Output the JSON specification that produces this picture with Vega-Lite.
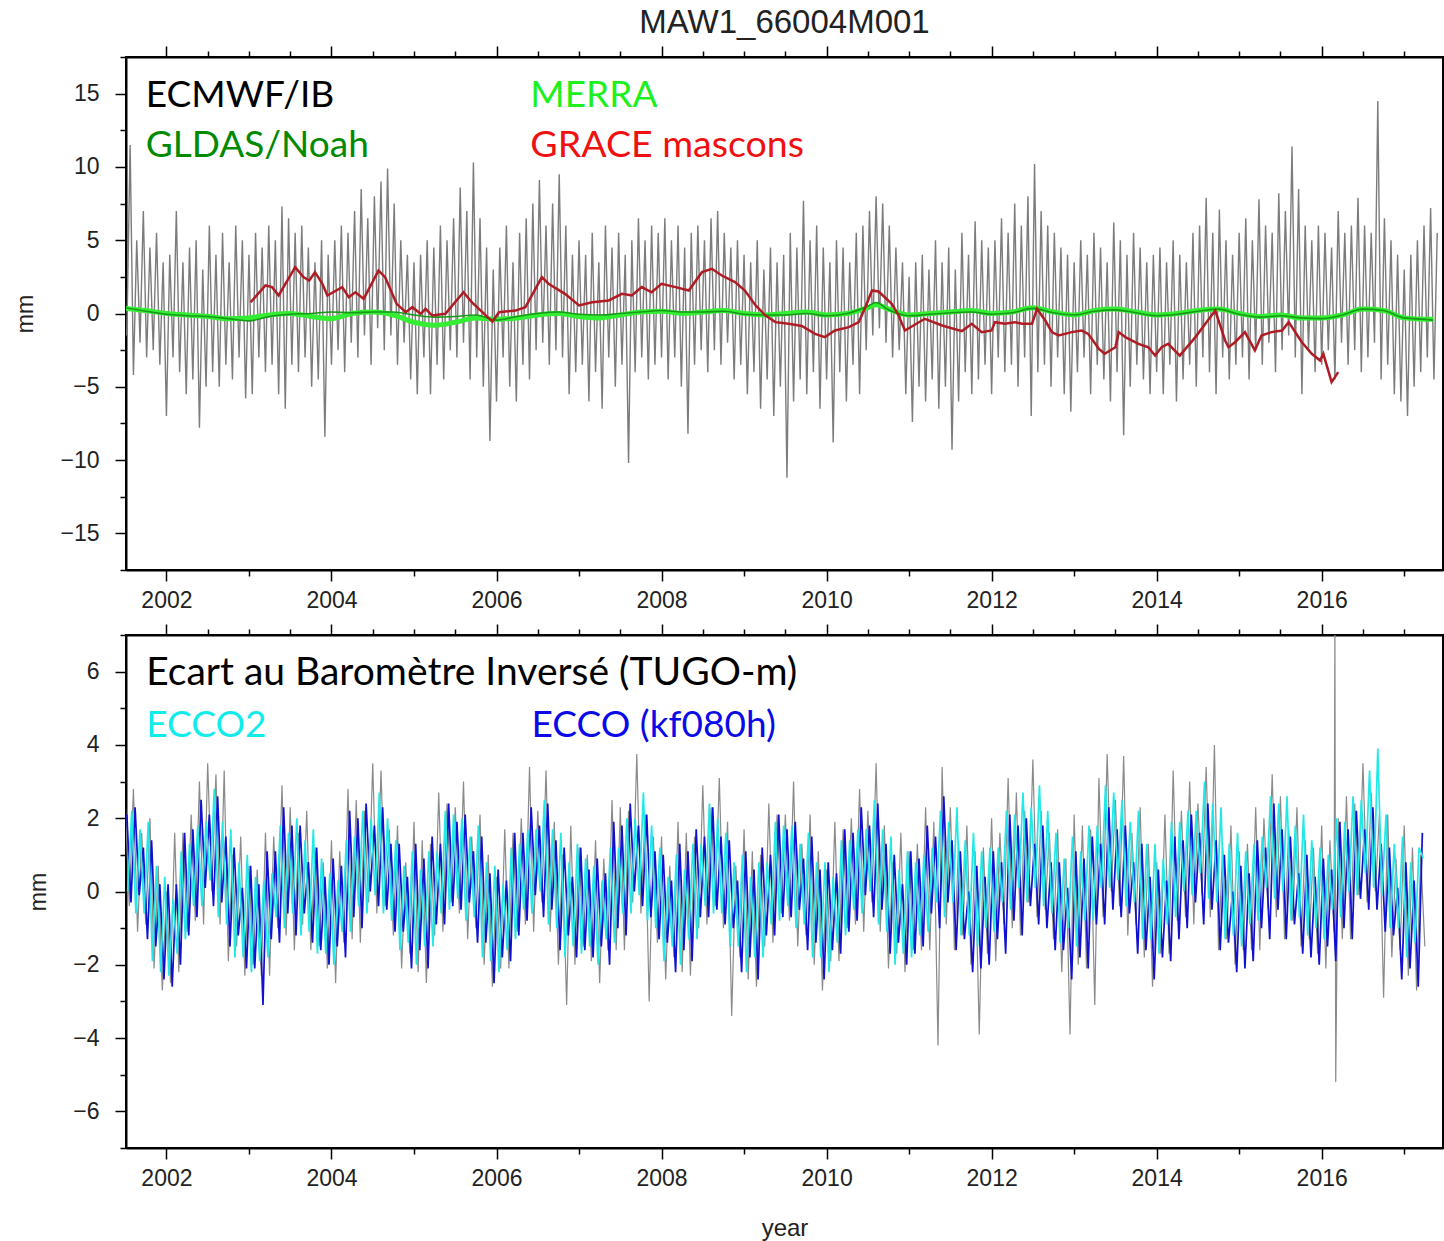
{
"$schema":"https://vega.github.io/schema/vega-lite/v6.json",
"background":"white",
"padding":{"left":13,"top":6,"right":3,"bottom":4},
"bounds":"flush",
"spacing":65,
"config":{
 "view":{"stroke":"black","strokeWidth":2},
 "axis":{"domainColor":"black","domainWidth":2,"tickColor":"black","tickWidth":1.5,"labelFont":"Liberation Sans","labelFontSize":23,"labelColor":"#222222","titleFont":"Liberation Sans","titleFontWeight":"normal","titleFontSize":23,"titleColor":"#222222","grid":false,"labelOverlap":false,"labelFlush":false}
},
"datasets":{
"labels":[{"label":"ECMWF/IB"},{"label":"GLDAS/Noah"},{"label":"MERRA"},{"label":"GRACE mascons"},{"label":"Ecart au Baromètre Inversé (TUGO-m)"},{"label":"ECCO2"},{"label":"ECCO (kf080h)"}],
"ib":[
{"t":2001.52,"v":-1.5},{"t":2001.56,"v":11.5},{"t":2001.60,"v":-4.2},{"t":2001.64,"v":5.0},{"t":2001.68,"v":-2.0},{"t":2001.72,"v":7.0},{"t":2001.76,"v":-3.0},{"t":2001.80,"v":4.5},{"t":2001.84,"v":-2.5},{"t":2001.88,"v":5.5},{"t":2001.92,"v":-3.5},{"t":2001.96,"v":3.5},
{"t":2002.00,"v":-7.0},{"t":2002.04,"v":4.0},{"t":2002.08,"v":-3.0},{"t":2002.12,"v":7.0},{"t":2002.16,"v":-4.0},{"t":2002.20,"v":3.5},{"t":2002.24,"v":-5.5},{"t":2002.28,"v":4.5},{"t":2002.32,"v":-4.5},{"t":2002.36,"v":5.0},{"t":2002.40,"v":-7.8},{"t":2002.44,"v":3.0},{"t":2002.48,"v":-5.0},{"t":2002.52,"v":6.0},{"t":2002.56,"v":-4.0},{"t":2002.60,"v":4.0},{"t":2002.64,"v":-5.0},{"t":2002.68,"v":5.5},{"t":2002.72,"v":-3.5},{"t":2002.76,"v":3.5},{"t":2002.80,"v":-4.5},{"t":2002.84,"v":6.0},{"t":2002.88,"v":-3.0},{"t":2002.92,"v":5.0},{"t":2002.96,"v":-5.8},
{"t":2003.00,"v":4.0},{"t":2003.04,"v":-5.5},{"t":2003.08,"v":5.5},{"t":2003.12,"v":-3.0},{"t":2003.16,"v":4.5},{"t":2003.20,"v":-4.0},{"t":2003.24,"v":6.0},{"t":2003.28,"v":-3.5},{"t":2003.32,"v":5.0},{"t":2003.36,"v":-5.5},{"t":2003.40,"v":7.3},{"t":2003.44,"v":-6.5},{"t":2003.48,"v":6.5},{"t":2003.52,"v":-3.5},{"t":2003.56,"v":5.5},{"t":2003.60,"v":-4.0},{"t":2003.64,"v":6.0},{"t":2003.68,"v":-3.0},{"t":2003.72,"v":4.5},{"t":2003.76,"v":-5.0},{"t":2003.80,"v":3.5},{"t":2003.84,"v":-4.5},{"t":2003.88,"v":5.0},{"t":2003.92,"v":-8.4},{"t":2003.96,"v":4.0},
{"t":2004.00,"v":-3.5},{"t":2004.04,"v":5.0},{"t":2004.08,"v":-2.5},{"t":2004.12,"v":6.0},{"t":2004.16,"v":-4.0},{"t":2004.20,"v":5.5},{"t":2004.24,"v":-2.0},{"t":2004.28,"v":7.0},{"t":2004.32,"v":-3.0},{"t":2004.36,"v":8.5},{"t":2004.40,"v":-1.5},{"t":2004.44,"v":6.5},{"t":2004.48,"v":-3.5},{"t":2004.52,"v":8.0},{"t":2004.56,"v":-1.0},{"t":2004.60,"v":9.0},{"t":2004.64,"v":-2.5},{"t":2004.68,"v":9.9},{"t":2004.72,"v":-1.5},{"t":2004.76,"v":7.5},{"t":2004.80,"v":-3.5},{"t":2004.84,"v":5.0},{"t":2004.88,"v":-2.0},{"t":2004.92,"v":4.0},{"t":2004.96,"v":-4.5},
{"t":2005.00,"v":3.5},{"t":2005.04,"v":-5.5},{"t":2005.08,"v":4.0},{"t":2005.12,"v":-3.0},{"t":2005.16,"v":5.0},{"t":2005.20,"v":-5.5},{"t":2005.24,"v":4.5},{"t":2005.28,"v":-3.5},{"t":2005.32,"v":6.0},{"t":2005.36,"v":-4.5},{"t":2005.40,"v":5.0},{"t":2005.44,"v":-2.5},{"t":2005.48,"v":6.5},{"t":2005.52,"v":-3.0},{"t":2005.56,"v":8.6},{"t":2005.60,"v":-2.0},{"t":2005.64,"v":7.0},{"t":2005.68,"v":-4.5},{"t":2005.72,"v":10.3},{"t":2005.76,"v":-3.0},{"t":2005.80,"v":6.5},{"t":2005.84,"v":-5.0},{"t":2005.88,"v":4.5},{"t":2005.92,"v":-8.7},{"t":2005.96,"v":3.0},
{"t":2006.00,"v":-6.0},{"t":2006.04,"v":4.5},{"t":2006.08,"v":-3.0},{"t":2006.12,"v":6.0},{"t":2006.16,"v":-5.0},{"t":2006.20,"v":3.5},{"t":2006.24,"v":-6.0},{"t":2006.28,"v":5.5},{"t":2006.32,"v":-3.5},{"t":2006.36,"v":6.5},{"t":2006.40,"v":-4.5},{"t":2006.44,"v":7.5},{"t":2006.48,"v":-2.5},{"t":2006.52,"v":9.1},{"t":2006.56,"v":-2.0},{"t":2006.60,"v":6.0},{"t":2006.64,"v":-3.5},{"t":2006.68,"v":7.5},{"t":2006.72,"v":-2.5},{"t":2006.76,"v":9.5},{"t":2006.80,"v":-3.0},{"t":2006.84,"v":6.0},{"t":2006.88,"v":-5.5},{"t":2006.92,"v":4.0},{"t":2006.96,"v":-4.0},
{"t":2007.00,"v":5.0},{"t":2007.04,"v":-3.5},{"t":2007.08,"v":4.0},{"t":2007.12,"v":-6.0},{"t":2007.16,"v":5.5},{"t":2007.20,"v":-4.0},{"t":2007.24,"v":3.5},{"t":2007.28,"v":-6.5},{"t":2007.32,"v":6.0},{"t":2007.36,"v":-3.0},{"t":2007.40,"v":4.5},{"t":2007.44,"v":-5.0},{"t":2007.48,"v":5.5},{"t":2007.52,"v":-3.5},{"t":2007.56,"v":4.0},{"t":2007.60,"v":-10.2},{"t":2007.64,"v":5.0},{"t":2007.68,"v":-4.0},{"t":2007.72,"v":6.5},{"t":2007.76,"v":-3.0},{"t":2007.80,"v":5.0},{"t":2007.84,"v":-4.5},{"t":2007.88,"v":6.0},{"t":2007.92,"v":-3.5},{"t":2007.96,"v":5.5},
{"t":2008.00,"v":-3.0},{"t":2008.04,"v":6.5},{"t":2008.08,"v":-4.5},{"t":2008.12,"v":5.0},{"t":2008.16,"v":-3.0},{"t":2008.20,"v":6.0},{"t":2008.24,"v":-5.0},{"t":2008.28,"v":4.5},{"t":2008.32,"v":-8.2},{"t":2008.36,"v":5.5},{"t":2008.40,"v":-3.5},{"t":2008.44,"v":6.0},{"t":2008.48,"v":-2.5},{"t":2008.52,"v":5.0},{"t":2008.56,"v":-4.0},{"t":2008.60,"v":6.5},{"t":2008.64,"v":-2.5},{"t":2008.68,"v":7.0},{"t":2008.72,"v":-3.5},{"t":2008.76,"v":5.5},{"t":2008.80,"v":-2.0},{"t":2008.84,"v":4.5},{"t":2008.88,"v":-4.5},{"t":2008.92,"v":5.0},{"t":2008.96,"v":-3.5},
{"t":2009.00,"v":4.0},{"t":2009.04,"v":-5.5},{"t":2009.08,"v":3.5},{"t":2009.12,"v":-4.0},{"t":2009.16,"v":5.0},{"t":2009.20,"v":-6.5},{"t":2009.24,"v":3.0},{"t":2009.28,"v":-4.5},{"t":2009.32,"v":4.5},{"t":2009.36,"v":-7.0},{"t":2009.40,"v":3.5},{"t":2009.44,"v":-5.0},{"t":2009.48,"v":4.0},{"t":2009.52,"v":-11.2},{"t":2009.56,"v":5.5},{"t":2009.60,"v":-6.0},{"t":2009.64,"v":4.5},{"t":2009.68,"v":-4.5},{"t":2009.72,"v":7.7},{"t":2009.76,"v":-5.5},{"t":2009.80,"v":5.0},{"t":2009.84,"v":-4.0},{"t":2009.88,"v":6.0},{"t":2009.92,"v":-6.5},{"t":2009.96,"v":4.5},
{"t":2010.00,"v":-4.5},{"t":2010.04,"v":3.5},{"t":2010.08,"v":-8.8},{"t":2010.12,"v":5.0},{"t":2010.16,"v":-4.0},{"t":2010.20,"v":4.5},{"t":2010.24,"v":-6.0},{"t":2010.28,"v":3.5},{"t":2010.32,"v":-3.5},{"t":2010.36,"v":5.5},{"t":2010.40,"v":-5.5},{"t":2010.44,"v":6.0},{"t":2010.48,"v":-2.5},{"t":2010.52,"v":7.0},{"t":2010.56,"v":-1.5},{"t":2010.60,"v":8.0},{"t":2010.64,"v":-1.0},{"t":2010.68,"v":7.5},{"t":2010.72,"v":-2.0},{"t":2010.76,"v":6.0},{"t":2010.80,"v":-3.0},{"t":2010.84,"v":4.5},{"t":2010.88,"v":-2.5},{"t":2010.92,"v":3.5},{"t":2010.96,"v":-5.5},
{"t":2011.00,"v":2.5},{"t":2011.04,"v":-7.4},{"t":2011.08,"v":3.5},{"t":2011.12,"v":-5.0},{"t":2011.16,"v":4.0},{"t":2011.20,"v":-6.0},{"t":2011.24,"v":3.0},{"t":2011.28,"v":-4.5},{"t":2011.32,"v":5.0},{"t":2011.36,"v":-6.5},{"t":2011.40,"v":3.5},{"t":2011.44,"v":-5.0},{"t":2011.48,"v":4.5},{"t":2011.52,"v":-9.3},{"t":2011.56,"v":3.0},{"t":2011.60,"v":-6.0},{"t":2011.64,"v":5.5},{"t":2011.68,"v":-4.0},{"t":2011.72,"v":4.0},{"t":2011.76,"v":-5.5},{"t":2011.80,"v":6.3},{"t":2011.84,"v":-4.5},{"t":2011.88,"v":5.0},{"t":2011.92,"v":-3.5},{"t":2011.96,"v":4.5},
{"t":2012.00,"v":-5.5},{"t":2012.04,"v":5.0},{"t":2012.08,"v":-3.0},{"t":2012.12,"v":6.5},{"t":2012.16,"v":-4.0},{"t":2012.20,"v":5.5},{"t":2012.24,"v":-3.5},{"t":2012.28,"v":7.5},{"t":2012.32,"v":-5.0},{"t":2012.36,"v":6.0},{"t":2012.40,"v":-3.0},{"t":2012.44,"v":8.0},{"t":2012.48,"v":-7.0},{"t":2012.52,"v":10.2},{"t":2012.56,"v":-4.0},{"t":2012.60,"v":7.0},{"t":2012.64,"v":-3.5},{"t":2012.68,"v":6.0},{"t":2012.72,"v":-5.0},{"t":2012.76,"v":5.5},{"t":2012.80,"v":-3.0},{"t":2012.84,"v":4.5},{"t":2012.88,"v":-5.5},{"t":2012.92,"v":4.0},{"t":2012.96,"v":-6.7},
{"t":2013.00,"v":3.5},{"t":2013.04,"v":-4.0},{"t":2013.08,"v":5.0},{"t":2013.12,"v":-3.0},{"t":2013.16,"v":4.0},{"t":2013.20,"v":-5.5},{"t":2013.24,"v":5.5},{"t":2013.28,"v":-3.5},{"t":2013.32,"v":4.5},{"t":2013.36,"v":-4.5},{"t":2013.40,"v":3.5},{"t":2013.44,"v":-6.0},{"t":2013.48,"v":6.2},{"t":2013.52,"v":-4.0},{"t":2013.56,"v":5.0},{"t":2013.60,"v":-8.3},{"t":2013.64,"v":4.0},{"t":2013.68,"v":-5.0},{"t":2013.72,"v":5.5},{"t":2013.76,"v":-3.5},{"t":2013.80,"v":4.5},{"t":2013.84,"v":-4.5},{"t":2013.88,"v":3.5},{"t":2013.92,"v":-5.5},{"t":2013.96,"v":4.0},
{"t":2014.00,"v":-4.0},{"t":2014.04,"v":4.5},{"t":2014.08,"v":-5.5},{"t":2014.12,"v":3.5},{"t":2014.16,"v":-3.5},{"t":2014.20,"v":5.0},{"t":2014.24,"v":-6.0},{"t":2014.28,"v":4.0},{"t":2014.32,"v":-4.5},{"t":2014.36,"v":3.5},{"t":2014.40,"v":-3.5},{"t":2014.44,"v":5.5},{"t":2014.48,"v":-5.0},{"t":2014.52,"v":6.0},{"t":2014.56,"v":-3.0},{"t":2014.60,"v":7.9},{"t":2014.64,"v":-4.0},{"t":2014.68,"v":5.5},{"t":2014.72,"v":-5.5},{"t":2014.76,"v":7.1},{"t":2014.80,"v":-3.0},{"t":2014.84,"v":5.0},{"t":2014.88,"v":-4.5},{"t":2014.92,"v":4.0},{"t":2014.96,"v":-3.5},
{"t":2015.00,"v":5.5},{"t":2015.04,"v":-3.0},{"t":2015.08,"v":6.5},{"t":2015.12,"v":-4.5},{"t":2015.16,"v":5.0},{"t":2015.20,"v":-2.5},{"t":2015.24,"v":7.8},{"t":2015.28,"v":-3.5},{"t":2015.32,"v":6.0},{"t":2015.36,"v":-2.0},{"t":2015.40,"v":5.5},{"t":2015.44,"v":-4.0},{"t":2015.48,"v":8.2},{"t":2015.52,"v":-2.5},{"t":2015.56,"v":7.0},{"t":2015.60,"v":-1.5},{"t":2015.64,"v":11.4},{"t":2015.68,"v":-3.0},{"t":2015.72,"v":8.5},{"t":2015.76,"v":-5.5},{"t":2015.80,"v":6.0},{"t":2015.84,"v":-2.5},{"t":2015.88,"v":5.0},{"t":2015.92,"v":-4.0},{"t":2015.96,"v":6.0},
{"t":2016.00,"v":-3.5},{"t":2016.04,"v":5.5},{"t":2016.08,"v":-2.5},{"t":2016.12,"v":4.5},{"t":2016.16,"v":-4.5},{"t":2016.20,"v":7.0},{"t":2016.24,"v":-2.0},{"t":2016.28,"v":5.5},{"t":2016.32,"v":-3.5},{"t":2016.36,"v":6.0},{"t":2016.40,"v":-2.5},{"t":2016.44,"v":7.9},{"t":2016.48,"v":-4.0},{"t":2016.52,"v":6.0},{"t":2016.56,"v":-3.0},{"t":2016.60,"v":5.5},{"t":2016.64,"v":-2.0},{"t":2016.68,"v":14.5},{"t":2016.72,"v":-4.5},{"t":2016.76,"v":6.5},{"t":2016.80,"v":-3.5},{"t":2016.84,"v":5.0},{"t":2016.88,"v":-5.5},{"t":2016.92,"v":4.0},{"t":2016.96,"v":-6.0},
{"t":2017.00,"v":3.0},{"t":2017.04,"v":-7.0},{"t":2017.08,"v":4.0},{"t":2017.12,"v":-5.0},{"t":2017.16,"v":5.0},{"t":2017.20,"v":-4.0},{"t":2017.24,"v":6.0},{"t":2017.28,"v":-3.0},{"t":2017.32,"v":7.2},{"t":2017.36,"v":-4.5},{"t":2017.40,"v":5.5}
],
"merra":[
{"t":2001.5,"v":0.35},{"t":2001.75,"v":0.2},{"t":2002.0,"v":0.0},{"t":2002.25,"v":-0.1},{"t":2002.5,"v":-0.2},{"t":2002.75,"v":-0.35},{"t":2003.0,"v":-0.3},{"t":2003.25,"v":-0.1},{"t":2003.5,"v":0.0},{"t":2003.75,"v":-0.2},{"t":2004.0,"v":-0.35},{"t":2004.25,"v":0.0},{"t":2004.5,"v":0.1},{"t":2004.75,"v":-0.1},{"t":2005.0,"v":-0.6},{"t":2005.25,"v":-0.8},{"t":2005.5,"v":-0.6},{"t":2005.75,"v":-0.3},{"t":2006.0,"v":-0.4},{"t":2006.25,"v":-0.3},{"t":2006.5,"v":-0.1},{"t":2006.75,"v":0.0},{"t":2007.0,"v":-0.2},{"t":2007.25,"v":-0.3},{"t":2007.5,"v":-0.1},{"t":2007.75,"v":0.1},{"t":2008.0,"v":0.15},{"t":2008.25,"v":0.0},{"t":2008.5,"v":0.1},{"t":2008.75,"v":0.2},{"t":2009.0,"v":0.0},{"t":2009.25,"v":-0.1},{"t":2009.5,"v":0.0},{"t":2009.75,"v":0.1},{"t":2010.0,"v":-0.1},{"t":2010.25,"v":0.0},{"t":2010.5,"v":0.4},{"t":2010.6,"v":0.6},{"t":2010.75,"v":0.3},{"t":2011.0,"v":-0.1},{"t":2011.25,"v":0.0},{"t":2011.5,"v":0.1},{"t":2011.75,"v":0.2},{"t":2012.0,"v":0.0},{"t":2012.25,"v":0.1},{"t":2012.5,"v":0.4},{"t":2012.75,"v":0.1},{"t":2013.0,"v":-0.1},{"t":2013.25,"v":0.2},{"t":2013.5,"v":0.3},{"t":2013.75,"v":0.1},{"t":2014.0,"v":-0.1},{"t":2014.25,"v":0.0},{"t":2014.5,"v":0.2},{"t":2014.75,"v":0.3},{"t":2015.0,"v":0.0},{"t":2015.25,"v":-0.2},{"t":2015.5,"v":-0.1},{"t":2015.75,"v":-0.3},{"t":2016.0,"v":-0.3},{"t":2016.25,"v":-0.1},{"t":2016.5,"v":0.3},{"t":2016.75,"v":0.2},{"t":2017.0,"v":-0.3},{"t":2017.25,"v":-0.4},{"t":2017.35,"v":-0.4}
],
"gldas":[
{"t":2001.5,"v":0.4},{"t":2001.75,"v":0.15},{"t":2002.0,"v":-0.05},{"t":2002.25,"v":-0.15},{"t":2002.5,"v":-0.2},{"t":2002.75,"v":-0.35},{"t":2003.0,"v":-0.5},{"t":2003.25,"v":-0.2},{"t":2003.5,"v":-0.05},{"t":2003.75,"v":0.0},{"t":2004.0,"v":0.1},{"t":2004.25,"v":0.05},{"t":2004.5,"v":0.1},{"t":2004.75,"v":0.1},{"t":2005.0,"v":-0.1},{"t":2005.25,"v":-0.25},{"t":2005.5,"v":-0.2},{"t":2005.75,"v":-0.1},{"t":2006.0,"v":-0.45},{"t":2006.25,"v":-0.2},{"t":2006.5,"v":0.0},{"t":2006.75,"v":0.1},{"t":2007.0,"v":-0.05},{"t":2007.25,"v":-0.1},{"t":2007.5,"v":0.0},{"t":2007.75,"v":0.1},{"t":2008.0,"v":0.2},{"t":2008.25,"v":0.1},{"t":2008.5,"v":0.1},{"t":2008.75,"v":0.15},{"t":2009.0,"v":-0.05},{"t":2009.25,"v":-0.1},{"t":2009.5,"v":-0.1},{"t":2009.75,"v":0.0},{"t":2010.0,"v":-0.15},{"t":2010.25,"v":0.0},{"t":2010.5,"v":0.5},{"t":2010.6,"v":0.75},{"t":2010.75,"v":0.25},{"t":2011.0,"v":-0.15},{"t":2011.25,"v":-0.05},{"t":2011.5,"v":0.05},{"t":2011.75,"v":0.1},{"t":2012.0,"v":-0.05},{"t":2012.25,"v":0.05},{"t":2012.5,"v":0.35},{"t":2012.75,"v":0.05},{"t":2013.0,"v":-0.1},{"t":2013.25,"v":0.15},{"t":2013.5,"v":0.25},{"t":2013.75,"v":0.05},{"t":2014.0,"v":-0.15},{"t":2014.25,"v":-0.05},{"t":2014.5,"v":0.15},{"t":2014.75,"v":0.3},{"t":2015.0,"v":-0.05},{"t":2015.25,"v":-0.25},{"t":2015.5,"v":-0.15},{"t":2015.75,"v":-0.3},{"t":2016.0,"v":-0.35},{"t":2016.25,"v":-0.1},{"t":2016.5,"v":0.3},{"t":2016.75,"v":0.2},{"t":2017.0,"v":-0.3},{"t":2017.25,"v":-0.4},{"t":2017.35,"v":-0.45}
],
"grace":[
{"t":2003.02,"v":0.77},{"t":2003.20,"v":1.91},{"t":2003.28,"v":1.8},{"t":2003.36,"v":1.23},{"t":2003.56,"v":3.16},{"t":2003.66,"v":2.48},{"t":2003.73,"v":2.25},{"t":2003.80,"v":2.82},{"t":2003.89,"v":2.03},{"t":2003.95,"v":1.23},{"t":2004.13,"v":1.8},{"t":2004.21,"v":1.11},{"t":2004.29,"v":1.45},{"t":2004.39,"v":1.0},{"t":2004.57,"v":2.93},{"t":2004.65,"v":2.48},{"t":2004.79,"v":0.66},{"t":2004.90,"v":0.09},{"t":2004.98,"v":0.43},{"t":2005.08,"v":-0.02},{"t":2005.14,"v":0.32},{"t":2005.22,"v":-0.14},{"t":2005.38,"v":-0.02},{"t":2005.60,"v":1.45},{"t":2005.70,"v":0.77},{"t":2005.95,"v":-0.55},{"t":2006.03,"v":0.09},{"t":2006.23,"v":0.2},{"t":2006.35,"v":0.43},{"t":2006.55,"v":2.48},{"t":2006.63,"v":2.03},{"t":2006.83,"v":1.34},{"t":2007.00,"v":0.55},{"t":2007.16,"v":0.77},{"t":2007.36,"v":0.89},{"t":2007.52,"v":1.34},{"t":2007.64,"v":1.23},{"t":2007.76,"v":1.8},{"t":2007.88,"v":1.45},{"t":2008.00,"v":2.03},{"t":2008.17,"v":1.8},{"t":2008.33,"v":1.57},{"t":2008.49,"v":2.82},{"t":2008.61,"v":3.05},{"t":2008.73,"v":2.59},{"t":2008.89,"v":2.14},{"t":2009.01,"v":1.57},{"t":2009.14,"v":0.55},{"t":2009.26,"v":-0.14},{"t":2009.38,"v":-0.59},{"t":2009.54,"v":-0.7},{"t":2009.70,"v":-0.85},{"t":2009.86,"v":-1.39},{"t":2009.98,"v":-1.61},{"t":2010.10,"v":-1.16},{"t":2010.27,"v":-0.93},{"t":2010.39,"v":-0.59},{"t":2010.47,"v":0.43},{"t":2010.55,"v":1.57},{"t":2010.63,"v":1.5},{"t":2010.79,"v":0.66},{"t":2010.87,"v":-0.1},{"t":2010.95,"v":-1.16},{"t":2011.19,"v":-0.36},{"t":2011.40,"v":-0.82},{"t":2011.64,"v":-1.2},{"t":2011.76,"v":-0.7},{"t":2011.88,"v":-1.27},{"t":2012.00,"v":-1.16},{"t":2012.04,"v":-0.59},{"t":2012.16,"v":-0.7},{"t":2012.28,"v":-0.59},{"t":2012.37,"v":-0.7},{"t":2012.49,"v":-0.7},{"t":2012.55,"v":0.32},{"t":2012.65,"v":-0.48},{"t":2012.73,"v":-1.27},{"t":2012.81,"v":-1.5},{"t":2012.89,"v":-1.39},{"t":2012.97,"v":-1.27},{"t":2013.09,"v":-1.16},{"t":2013.17,"v":-1.39},{"t":2013.30,"v":-2.41},{"t":2013.37,"v":-2.75},{"t":2013.50,"v":-2.3},{"t":2013.54,"v":-1.27},{"t":2013.62,"v":-1.61},{"t":2013.78,"v":-2.07},{"t":2013.90,"v":-2.3},{"t":2013.98,"v":-2.87},{"t":2014.06,"v":-2.3},{"t":2014.14,"v":-2.07},{"t":2014.28,"v":-2.87},{"t":2014.47,"v":-1.61},{"t":2014.59,"v":-0.7},{"t":2014.71,"v":0.2},{"t":2014.83,"v":-1.84},{"t":2014.87,"v":-2.3},{"t":2014.95,"v":-1.96},{"t":2015.07,"v":-1.27},{"t":2015.19,"v":-2.52},{"t":2015.27,"v":-1.5},{"t":2015.39,"v":-1.27},{"t":2015.52,"v":-1.16},{"t":2015.60,"v":-0.59},{"t":2015.76,"v":-1.96},{"t":2015.88,"v":-2.75},{"t":2015.98,"v":-3.21},{"t":2016.02,"v":-2.75},{"t":2016.12,"v":-4.68},{"t":2016.20,"v":-4.0}
],
"tugo":[
{"t":2001.50,"v":2.5},{"t":2001.55,"v":-0.4},{"t":2001.60,"v":2.8},{"t":2001.65,"v":-1.1},{"t":2001.70,"v":1.6},{"t":2001.75,"v":-0.9},{"t":2001.80,"v":2.0},{"t":2001.85,"v":-2.1},{"t":2001.90,"v":0.7},{"t":2001.95,"v":-2.7},
{"t":2002.00,"v":0.0},{"t":2002.05,"v":-2.5},{"t":2002.10,"v":1.6},{"t":2002.15,"v":-2.2},{"t":2002.20,"v":1.6},{"t":2002.25,"v":-1.1},{"t":2002.30,"v":2.1},{"t":2002.35,"v":-0.8},{"t":2002.40,"v":3.0},{"t":2002.45,"v":-0.9},{"t":2002.50,"v":3.5},{"t":2002.55,"v":0.0},{"t":2002.60,"v":3.2},{"t":2002.65,"v":-0.9},{"t":2002.70,"v":3.3},{"t":2002.75,"v":-1.9},{"t":2002.80,"v":1.0},{"t":2002.85,"v":-1.5},{"t":2002.90,"v":1.5},{"t":2002.95,"v":-2.3},
{"t":2003.00,"v":0.7},{"t":2003.05,"v":-2.0},{"t":2003.10,"v":0.6},{"t":2003.15,"v":-2.3},{"t":2003.20,"v":1.6},{"t":2003.25,"v":-2.3},{"t":2003.30,"v":1.5},{"t":2003.35,"v":-1.0},{"t":2003.40,"v":2.9},{"t":2003.45,"v":-1.2},{"t":2003.50,"v":2.3},{"t":2003.55,"v":-1.6},{"t":2003.60,"v":1.6},{"t":2003.65,"v":-0.9},{"t":2003.70,"v":2.2},{"t":2003.75,"v":-1.6},{"t":2003.80,"v":1.2},{"t":2003.85,"v":-1.5},{"t":2003.90,"v":0.8},{"t":2003.95,"v":-2.1},
{"t":2004.00,"v":1.4},{"t":2004.05,"v":-2.5},{"t":2004.10,"v":1.1},{"t":2004.15,"v":-1.4},{"t":2004.20,"v":2.8},{"t":2004.25,"v":-1.3},{"t":2004.30,"v":2.5},{"t":2004.35,"v":-1.4},{"t":2004.40,"v":2.2},{"t":2004.45,"v":-0.3},{"t":2004.50,"v":3.5},{"t":2004.55,"v":-0.6},{"t":2004.60,"v":3.3},{"t":2004.65,"v":-0.4},{"t":2004.70,"v":1.7},{"t":2004.75,"v":-1.2},{"t":2004.80,"v":1.8},{"t":2004.85,"v":-2.1},{"t":2004.90,"v":0.8},{"t":2004.95,"v":-1.7},
{"t":2005.00,"v":1.9},{"t":2005.05,"v":-2.2},{"t":2005.10,"v":1.4},{"t":2005.15,"v":-2.5},{"t":2005.20,"v":1.3},{"t":2005.25,"v":-1.2},{"t":2005.30,"v":2.7},{"t":2005.35,"v":-1.1},{"t":2005.40,"v":2.4},{"t":2005.45,"v":-0.3},{"t":2005.50,"v":2.3},{"t":2005.55,"v":-0.6},{"t":2005.60,"v":3.0},{"t":2005.65,"v":-1.3},{"t":2005.70,"v":1.5},{"t":2005.75,"v":-1.0},{"t":2005.80,"v":2.1},{"t":2005.85,"v":-2.0},{"t":2005.90,"v":1.0},{"t":2005.95,"v":-2.6},
{"t":2006.00,"v":0.4},{"t":2006.05,"v":-2.1},{"t":2006.10,"v":1.7},{"t":2006.15,"v":-2.1},{"t":2006.20,"v":1.6},{"t":2006.25,"v":-1.1},{"t":2006.30,"v":2.0},{"t":2006.35,"v":-0.9},{"t":2006.40,"v":3.4},{"t":2006.45,"v":-1.1},{"t":2006.50,"v":2.2},{"t":2006.55,"v":-0.3},{"t":2006.60,"v":3.3},{"t":2006.65,"v":-1.1},{"t":2006.70,"v":1.9},{"t":2006.75,"v":-2.0},{"t":2006.80,"v":1.0},{"t":2006.85,"v":-3.1},{"t":2006.90,"v":1.8},{"t":2006.95,"v":-2.0},
{"t":2007.00,"v":1.2},{"t":2007.05,"v":-1.5},{"t":2007.10,"v":1.0},{"t":2007.15,"v":-1.9},{"t":2007.20,"v":1.4},{"t":2007.25,"v":-2.5},{"t":2007.30,"v":0.9},{"t":2007.35,"v":-1.6},{"t":2007.40,"v":2.5},{"t":2007.45,"v":-1.6},{"t":2007.50,"v":2.3},{"t":2007.55,"v":-1.6},{"t":2007.60,"v":2.2},{"t":2007.65,"v":-0.3},{"t":2007.70,"v":3.75},{"t":2007.75,"v":-0.6},{"t":2007.80,"v":2.1},{"t":2007.85,"v":-3.0},{"t":2007.90,"v":1.5},{"t":2007.95,"v":-1.4},
{"t":2008.00,"v":1.5},{"t":2008.05,"v":-2.4},{"t":2008.10,"v":0.7},{"t":2008.15,"v":-1.8},{"t":2008.20,"v":1.9},{"t":2008.25,"v":-2.2},{"t":2008.30,"v":1.6},{"t":2008.35,"v":-2.3},{"t":2008.40,"v":1.5},{"t":2008.45,"v":-1.0},{"t":2008.50,"v":2.9},{"t":2008.55,"v":-0.9},{"t":2008.60,"v":2.3},{"t":2008.65,"v":-0.4},{"t":2008.70,"v":3.1},{"t":2008.75,"v":-1.0},{"t":2008.80,"v":1.9},{"t":2008.85,"v":-3.4},{"t":2008.90,"v":0.7},{"t":2008.95,"v":-1.8},
{"t":2009.00,"v":1.7},{"t":2009.05,"v":-2.4},{"t":2009.10,"v":1.1},{"t":2009.15,"v":-2.6},{"t":2009.20,"v":1.0},{"t":2009.25,"v":-1.5},{"t":2009.30,"v":2.4},{"t":2009.35,"v":-1.4},{"t":2009.40,"v":2.1},{"t":2009.45,"v":-0.6},{"t":2009.50,"v":2.1},{"t":2009.55,"v":-0.8},{"t":2009.60,"v":3.0},{"t":2009.65,"v":-1.5},{"t":2009.70,"v":1.3},{"t":2009.75,"v":-1.2},{"t":2009.80,"v":2.1},{"t":2009.85,"v":-2.0},{"t":2009.90,"v":1.1},{"t":2009.95,"v":-2.7},
{"t":2010.00,"v":0.6},{"t":2010.05,"v":-1.9},{"t":2010.10,"v":1.9},{"t":2010.15,"v":-1.9},{"t":2010.20,"v":1.7},{"t":2010.25,"v":-1.0},{"t":2010.30,"v":2.0},{"t":2010.35,"v":-0.9},{"t":2010.40,"v":2.8},{"t":2010.45,"v":-1.1},{"t":2010.50,"v":2.2},{"t":2010.55,"v":-0.3},{"t":2010.60,"v":3.5},{"t":2010.65,"v":-1.1},{"t":2010.70,"v":1.8},{"t":2010.75,"v":-2.1},{"t":2010.80,"v":0.8},{"t":2010.85,"v":-1.7},{"t":2010.90,"v":1.6},{"t":2010.95,"v":-2.2},
{"t":2011.00,"v":1.1},{"t":2011.05,"v":-1.6},{"t":2011.10,"v":1.3},{"t":2011.15,"v":-1.6},{"t":2011.20,"v":2.3},{"t":2011.25,"v":-1.6},{"t":2011.30,"v":1.9},{"t":2011.35,"v":-4.2},{"t":2011.40,"v":3.4},{"t":2011.45,"v":-0.9},{"t":2011.50,"v":2.3},{"t":2011.55,"v":-1.6},{"t":2011.60,"v":1.3},{"t":2011.65,"v":-1.2},{"t":2011.70,"v":1.8},{"t":2011.75,"v":-2.0},{"t":2011.80,"v":1.1},{"t":2011.85,"v":-3.9},{"t":2011.90,"v":1.2},{"t":2011.95,"v":-1.7},
{"t":2012.00,"v":2.0},{"t":2012.05,"v":-1.9},{"t":2012.10,"v":1.6},{"t":2012.15,"v":-0.9},{"t":2012.20,"v":3.1},{"t":2012.25,"v":-1.0},{"t":2012.30,"v":2.7},{"t":2012.35,"v":-1.2},{"t":2012.40,"v":2.2},{"t":2012.45,"v":-0.3},{"t":2012.50,"v":3.6},{"t":2012.55,"v":-0.7},{"t":2012.60,"v":2.2},{"t":2012.65,"v":-0.5},{"t":2012.70,"v":1.6},{"t":2012.75,"v":-1.3},{"t":2012.80,"v":1.7},{"t":2012.85,"v":-2.2},{"t":2012.90,"v":0.9},{"t":2012.95,"v":-3.9},
{"t":2013.00,"v":2.1},{"t":2013.05,"v":-2.0},{"t":2013.10,"v":1.8},{"t":2013.15,"v":-2.1},{"t":2013.20,"v":1.7},{"t":2013.25,"v":-3.1},{"t":2013.30,"v":3.1},{"t":2013.35,"v":-0.7},{"t":2013.40,"v":3.75},{"t":2013.45,"v":0.0},{"t":2013.50,"v":2.5},{"t":2013.55,"v":-0.4},{"t":2013.60,"v":3.7},{"t":2013.65,"v":-1.2},{"t":2013.70,"v":1.6},{"t":2013.75,"v":-0.9},{"t":2013.80,"v":2.3},{"t":2013.85,"v":-1.8},{"t":2013.90,"v":1.3},{"t":2013.95,"v":-2.6},
{"t":2014.00,"v":0.8},{"t":2014.05,"v":-1.7},{"t":2014.10,"v":2.1},{"t":2014.15,"v":-1.7},{"t":2014.20,"v":3.3},{"t":2014.25,"v":-0.8},{"t":2014.30,"v":2.2},{"t":2014.35,"v":-0.7},{"t":2014.40,"v":3.0},{"t":2014.45,"v":-0.9},{"t":2014.50,"v":2.4},{"t":2014.55,"v":-0.1},{"t":2014.60,"v":3.4},{"t":2014.65,"v":-0.7},{"t":2014.70,"v":4.0},{"t":2014.75,"v":-1.6},{"t":2014.80,"v":1.2},{"t":2014.85,"v":-1.3},{"t":2014.90,"v":1.8},{"t":2014.95,"v":-2.0},
{"t":2015.00,"v":1.1},{"t":2015.05,"v":-1.6},{"t":2015.10,"v":1.3},{"t":2015.15,"v":-1.6},{"t":2015.20,"v":2.3},{"t":2015.25,"v":-1.6},{"t":2015.30,"v":2.0},{"t":2015.35,"v":-0.5},{"t":2015.40,"v":3.2},{"t":2015.45,"v":-0.7},{"t":2015.50,"v":2.6},{"t":2015.55,"v":-1.3},{"t":2015.60,"v":1.7},{"t":2015.65,"v":-0.8},{"t":2015.70,"v":2.3},{"t":2015.75,"v":-1.5},{"t":2015.80,"v":1.4},{"t":2015.85,"v":-1.3},{"t":2015.90,"v":1.2},{"t":2015.95,"v":-1.7},
{"t":2016.00,"v":1.8},{"t":2016.05,"v":-2.1},{"t":2016.10,"v":1.4},{"t":2016.15,"v":-1.1},{"t":2016.16,"v":7.5},{"t":2016.17,"v":-5.2},{"t":2016.20,"v":2.0},{"t":2016.25,"v":-1.3},{"t":2016.30,"v":2.6},{"t":2016.35,"v":-1.3},{"t":2016.40,"v":2.4},{"t":2016.45,"v":-0.1},{"t":2016.50,"v":3.5},{"t":2016.55,"v":-0.3},{"t":2016.60,"v":2.7},{"t":2016.65,"v":0.0},{"t":2016.70,"v":2.1},{"t":2016.75,"v":-2.9},{"t":2016.80,"v":2.1},{"t":2016.85,"v":-1.8},{"t":2016.90,"v":0.9},{"t":2016.95,"v":-1.6},
{"t":2017.00,"v":1.8},{"t":2017.05,"v":-2.3},{"t":2017.10,"v":1.2},{"t":2017.15,"v":-2.7},{"t":2017.20,"v":1.0},{"t":2017.25,"v":-1.5}
],
"ecco":[
{"t":2001.52,"v":2.1},{"t":2001.57,"v":-0.3},{"t":2001.62,"v":2.3},{"t":2001.67,"v":-0.1},{"t":2001.72,"v":1.2},{"t":2001.77,"v":-1.3},{"t":2001.82,"v":1.4},{"t":2001.87,"v":-1.5},{"t":2001.92,"v":0.2},{"t":2001.97,"v":-2.4},
{"t":2002.02,"v":0.2},{"t":2002.07,"v":-2.6},{"t":2002.12,"v":0.2},{"t":2002.17,"v":-2.0},{"t":2002.22,"v":1.6},{"t":2002.27,"v":-1.2},{"t":2002.32,"v":1.7},{"t":2002.37,"v":-0.7},{"t":2002.42,"v":2.5},{"t":2002.47,"v":0.1},{"t":2002.52,"v":2.1},{"t":2002.57,"v":-0.4},{"t":2002.62,"v":2.6},{"t":2002.67,"v":-0.3},{"t":2002.72,"v":1.5},{"t":2002.77,"v":-1.5},{"t":2002.82,"v":1.2},{"t":2002.87,"v":-1.2},{"t":2002.92,"v":0.1},{"t":2002.97,"v":-2.1},
{"t":2003.02,"v":0.7},{"t":2003.07,"v":-2.1},{"t":2003.12,"v":0.2},{"t":2003.17,"v":-3.1},{"t":2003.22,"v":1.1},{"t":2003.27,"v":-1.3},{"t":2003.32,"v":1.1},{"t":2003.37,"v":-1.4},{"t":2003.42,"v":2.3},{"t":2003.47,"v":-0.6},{"t":2003.52,"v":1.8},{"t":2003.57,"v":-1.2},{"t":2003.62,"v":1.8},{"t":2003.67,"v":-0.6},{"t":2003.72,"v":0.8},{"t":2003.77,"v":-1.4},{"t":2003.82,"v":1.2},{"t":2003.87,"v":-1.6},{"t":2003.92,"v":0.4},{"t":2003.97,"v":-2.0},
{"t":2004.02,"v":0.9},{"t":2004.07,"v":-1.5},{"t":2004.12,"v":0.7},{"t":2004.17,"v":-1.8},{"t":2004.22,"v":2.2},{"t":2004.27,"v":-0.7},{"t":2004.32,"v":2.0},{"t":2004.37,"v":-1.0},{"t":2004.42,"v":2.4},{"t":2004.47,"v":0.0},{"t":2004.52,"v":1.8},{"t":2004.57,"v":-0.4},{"t":2004.62,"v":2.3},{"t":2004.67,"v":-0.5},{"t":2004.72,"v":1.3},{"t":2004.77,"v":-1.1},{"t":2004.82,"v":1.3},{"t":2004.87,"v":-1.1},{"t":2004.92,"v":0.4},{"t":2004.97,"v":-2.1},
{"t":2005.02,"v":1.3},{"t":2005.07,"v":-1.6},{"t":2005.12,"v":0.9},{"t":2005.17,"v":-2.1},{"t":2005.22,"v":1.5},{"t":2005.27,"v":-0.9},{"t":2005.32,"v":1.3},{"t":2005.37,"v":-0.9},{"t":2005.42,"v":2.4},{"t":2005.47,"v":-0.4},{"t":2005.52,"v":1.9},{"t":2005.57,"v":-0.5},{"t":2005.62,"v":2.1},{"t":2005.67,"v":-0.3},{"t":2005.72,"v":1.1},{"t":2005.77,"v":-1.4},{"t":2005.82,"v":1.5},{"t":2005.87,"v":-1.4},{"t":2005.92,"v":0.5},{"t":2005.97,"v":-2.5},
{"t":2006.02,"v":0.6},{"t":2006.07,"v":-1.8},{"t":2006.12,"v":0.3},{"t":2006.17,"v":-1.9},{"t":2006.22,"v":1.6},{"t":2006.27,"v":-1.2},{"t":2006.32,"v":1.6},{"t":2006.37,"v":-0.8},{"t":2006.42,"v":2.3},{"t":2006.47,"v":-0.1},{"t":2006.52,"v":1.8},{"t":2006.57,"v":-0.7},{"t":2006.62,"v":2.4},{"t":2006.67,"v":-0.5},{"t":2006.72,"v":1.4},{"t":2006.77,"v":-1.6},{"t":2006.82,"v":1.2},{"t":2006.87,"v":-1.2},{"t":2006.92,"v":0.4},{"t":2006.97,"v":-1.8},
{"t":2007.02,"v":1.2},{"t":2007.07,"v":-1.6},{"t":2007.12,"v":0.6},{"t":2007.17,"v":-1.8},{"t":2007.22,"v":0.9},{"t":2007.27,"v":-1.5},{"t":2007.32,"v":0.5},{"t":2007.37,"v":-2.0},{"t":2007.42,"v":1.9},{"t":2007.47,"v":-1.0},{"t":2007.52,"v":1.8},{"t":2007.57,"v":-1.2},{"t":2007.62,"v":2.4},{"t":2007.67,"v":0.0},{"t":2007.72,"v":1.8},{"t":2007.77,"v":-0.4},{"t":2007.82,"v":2.1},{"t":2007.87,"v":-0.7},{"t":2007.92,"v":1.1},{"t":2007.97,"v":-1.3},
{"t":2008.02,"v":1.0},{"t":2008.07,"v":-1.4},{"t":2008.12,"v":0.3},{"t":2008.17,"v":-2.2},{"t":2008.22,"v":1.3},{"t":2008.27,"v":-1.6},{"t":2008.32,"v":1.1},{"t":2008.37,"v":-1.9},{"t":2008.42,"v":1.7},{"t":2008.47,"v":-0.7},{"t":2008.52,"v":1.5},{"t":2008.57,"v":-0.7},{"t":2008.62,"v":2.3},{"t":2008.67,"v":-0.5},{"t":2008.72,"v":1.5},{"t":2008.77,"v":-0.9},{"t":2008.82,"v":1.4},{"t":2008.87,"v":-1.0},{"t":2008.92,"v":0.3},{"t":2008.97,"v":-2.2},
{"t":2009.02,"v":1.1},{"t":2009.07,"v":-1.8},{"t":2009.12,"v":0.6},{"t":2009.17,"v":-2.4},{"t":2009.22,"v":1.2},{"t":2009.27,"v":-1.2},{"t":2009.32,"v":1.0},{"t":2009.37,"v":-1.2},{"t":2009.42,"v":2.1},{"t":2009.47,"v":-0.7},{"t":2009.52,"v":1.7},{"t":2009.57,"v":-0.7},{"t":2009.62,"v":1.9},{"t":2009.67,"v":-0.5},{"t":2009.72,"v":0.9},{"t":2009.77,"v":-1.6},{"t":2009.82,"v":1.5},{"t":2009.87,"v":-1.4},{"t":2009.92,"v":0.6},{"t":2009.97,"v":-2.4},
{"t":2010.02,"v":0.8},{"t":2010.07,"v":-1.6},{"t":2010.12,"v":0.5},{"t":2010.17,"v":-1.7},{"t":2010.22,"v":1.7},{"t":2010.27,"v":-1.1},{"t":2010.32,"v":1.6},{"t":2010.37,"v":-0.8},{"t":2010.42,"v":2.3},{"t":2010.47,"v":-0.1},{"t":2010.52,"v":1.8},{"t":2010.57,"v":-0.7},{"t":2010.62,"v":2.4},{"t":2010.67,"v":-0.5},{"t":2010.72,"v":1.3},{"t":2010.77,"v":-1.7},{"t":2010.82,"v":1.0},{"t":2010.87,"v":-1.4},{"t":2010.92,"v":0.2},{"t":2010.97,"v":-2.0},
{"t":2011.02,"v":1.1},{"t":2011.07,"v":-1.7},{"t":2011.12,"v":0.9},{"t":2011.17,"v":-1.5},{"t":2011.22,"v":1.8},{"t":2011.27,"v":-0.6},{"t":2011.32,"v":1.5},{"t":2011.37,"v":-1.0},{"t":2011.42,"v":2.6},{"t":2011.47,"v":-0.3},{"t":2011.52,"v":1.4},{"t":2011.57,"v":-1.6},{"t":2011.62,"v":1.1},{"t":2011.67,"v":-1.3},{"t":2011.72,"v":0.0},{"t":2011.77,"v":-2.2},{"t":2011.82,"v":0.7},{"t":2011.87,"v":-2.1},{"t":2011.92,"v":0.4},{"t":2011.97,"v":-2.0},
{"t":2012.02,"v":1.1},{"t":2012.07,"v":-1.3},{"t":2012.12,"v":0.8},{"t":2012.17,"v":-1.7},{"t":2012.22,"v":2.1},{"t":2012.27,"v":-0.8},{"t":2012.32,"v":1.8},{"t":2012.37,"v":-1.2},{"t":2012.42,"v":2.0},{"t":2012.47,"v":-0.4},{"t":2012.52,"v":1.3},{"t":2012.57,"v":-0.9},{"t":2012.62,"v":1.8},{"t":2012.67,"v":-1.0},{"t":2012.72,"v":0.8},{"t":2012.77,"v":-1.6},{"t":2012.82,"v":0.8},{"t":2012.87,"v":-1.6},{"t":2012.92,"v":0.1},{"t":2012.97,"v":-2.4},
{"t":2013.02,"v":1.1},{"t":2013.07,"v":-1.8},{"t":2013.12,"v":0.9},{"t":2013.17,"v":-2.1},{"t":2013.22,"v":1.5},{"t":2013.27,"v":-0.9},{"t":2013.32,"v":1.3},{"t":2013.37,"v":-0.9},{"t":2013.42,"v":2.3},{"t":2013.47,"v":-0.5},{"t":2013.52,"v":1.7},{"t":2013.57,"v":-0.7},{"t":2013.62,"v":1.8},{"t":2013.67,"v":-0.6},{"t":2013.72,"v":0.8},{"t":2013.77,"v":-1.7},{"t":2013.82,"v":1.3},{"t":2013.87,"v":-1.6},{"t":2013.92,"v":0.4},{"t":2013.97,"v":-2.4},
{"t":2014.02,"v":0.6},{"t":2014.07,"v":-1.8},{"t":2014.12,"v":0.3},{"t":2014.17,"v":-1.9},{"t":2014.22,"v":1.5},{"t":2014.27,"v":-1.3},{"t":2014.32,"v":1.4},{"t":2014.37,"v":-1.0},{"t":2014.42,"v":2.1},{"t":2014.47,"v":-0.3},{"t":2014.52,"v":1.6},{"t":2014.57,"v":-0.9},{"t":2014.62,"v":2.4},{"t":2014.67,"v":-0.5},{"t":2014.72,"v":1.4},{"t":2014.77,"v":-1.6},{"t":2014.82,"v":1.0},{"t":2014.87,"v":-1.4},{"t":2014.92,"v":0.0},{"t":2014.97,"v":-2.2},
{"t":2015.02,"v":0.7},{"t":2015.07,"v":-2.1},{"t":2015.12,"v":0.5},{"t":2015.17,"v":-1.9},{"t":2015.22,"v":1.4},{"t":2015.27,"v":-1.0},{"t":2015.32,"v":1.2},{"t":2015.37,"v":-1.3},{"t":2015.42,"v":2.4},{"t":2015.47,"v":-0.5},{"t":2015.52,"v":1.7},{"t":2015.57,"v":-1.3},{"t":2015.62,"v":1.5},{"t":2015.67,"v":-0.9},{"t":2015.72,"v":0.5},{"t":2015.77,"v":-1.7},{"t":2015.82,"v":1.0},{"t":2015.87,"v":-1.8},{"t":2015.92,"v":0.4},{"t":2015.97,"v":-2.0},
{"t":2016.02,"v":0.9},{"t":2016.07,"v":-1.5},{"t":2016.12,"v":0.6},{"t":2016.17,"v":-1.9},{"t":2016.22,"v":1.9},{"t":2016.27,"v":-1.0},{"t":2016.32,"v":1.7},{"t":2016.37,"v":-1.3},{"t":2016.42,"v":2.2},{"t":2016.47,"v":-0.2},{"t":2016.52,"v":1.7},{"t":2016.57,"v":-0.5},{"t":2016.62,"v":2.3},{"t":2016.67,"v":-0.5},{"t":2016.72,"v":1.3},{"t":2016.77,"v":-1.1},{"t":2016.82,"v":1.2},{"t":2016.87,"v":-1.2},{"t":2016.92,"v":0.1},{"t":2016.97,"v":-2.4},
{"t":2017.02,"v":0.8},{"t":2017.07,"v":-2.1},{"t":2017.12,"v":0.3},{"t":2017.17,"v":-2.6},{"t":2017.22,"v":1.6}
],
"ecco2":[
{"t":2001.53,"v":0.0},{"t":2001.58,"v":2.2},{"t":2001.63,"v":-0.6},{"t":2001.68,"v":1.7},{"t":2001.73,"v":-0.6},{"t":2001.78,"v":1.9},{"t":2001.83,"v":-1.9},{"t":2001.88,"v":0.7},{"t":2001.93,"v":-2.2},{"t":2001.98,"v":0.4},
{"t":2002.03,"v":-2.3},{"t":2002.08,"v":-0.2},{"t":2002.13,"v":-1.7},{"t":2002.18,"v":1.1},{"t":2002.23,"v":-1.3},{"t":2002.28,"v":1.3},{"t":2002.33,"v":-0.4},{"t":2002.38,"v":1.8},{"t":2002.43,"v":-0.4},{"t":2002.48,"v":1.9},{"t":2002.53,"v":0.3},{"t":2002.58,"v":2.8},{"t":2002.63,"v":-0.7},{"t":2002.68,"v":1.9},{"t":2002.73,"v":-0.9},{"t":2002.78,"v":1.7},{"t":2002.83,"v":-1.8},{"t":2002.88,"v":0.8},{"t":2002.93,"v":-1.8},{"t":2002.98,"v":1.0},
{"t":2003.03,"v":-2.2},{"t":2003.08,"v":0.4},{"t":2003.13,"v":-1.9},{"t":2003.18,"v":0.3},{"t":2003.23,"v":-1.8},{"t":2003.28,"v":0.5},{"t":2003.33,"v":-0.7},{"t":2003.38,"v":1.8},{"t":2003.43,"v":-1.0},{"t":2003.48,"v":1.6},{"t":2003.53,"v":-0.6},{"t":2003.58,"v":2.0},{"t":2003.63,"v":-1.2},{"t":2003.68,"v":1.4},{"t":2003.73,"v":-1.1},{"t":2003.78,"v":1.7},{"t":2003.83,"v":-1.7},{"t":2003.88,"v":0.9},{"t":2003.93,"v":-1.7},{"t":2003.98,"v":0.5},
{"t":2004.03,"v":-2.0},{"t":2004.08,"v":0.3},{"t":2004.13,"v":-1.1},{"t":2004.18,"v":1.4},{"t":2004.23,"v":-1.1},{"t":2004.28,"v":1.5},{"t":2004.33,"v":-0.4},{"t":2004.38,"v":2.2},{"t":2004.43,"v":-0.6},{"t":2004.48,"v":2.0},{"t":2004.53,"v":-0.1},{"t":2004.58,"v":2.7},{"t":2004.63,"v":-0.6},{"t":2004.68,"v":2.0},{"t":2004.73,"v":-0.8},{"t":2004.78,"v":1.4},{"t":2004.83,"v":-1.6},{"t":2004.88,"v":0.7},{"t":2004.93,"v":-1.4},{"t":2004.98,"v":1.1},
{"t":2005.03,"v":-2.0},{"t":2005.08,"v":0.6},{"t":2005.13,"v":-1.5},{"t":2005.18,"v":1.1},{"t":2005.23,"v":-1.5},{"t":2005.28,"v":1.1},{"t":2005.33,"v":-0.6},{"t":2005.38,"v":2.2},{"t":2005.43,"v":-0.5},{"t":2005.48,"v":2.1},{"t":2005.53,"v":-0.2},{"t":2005.58,"v":2.0},{"t":2005.63,"v":-0.8},{"t":2005.68,"v":1.5},{"t":2005.73,"v":-0.7},{"t":2005.78,"v":1.8},{"t":2005.83,"v":-1.8},{"t":2005.88,"v":0.8},{"t":2005.93,"v":-1.9},{"t":2005.98,"v":0.7},
{"t":2006.03,"v":-2.2},{"t":2006.08,"v":0.2},{"t":2006.13,"v":-1.6},{"t":2006.18,"v":1.2},{"t":2006.23,"v":-1.3},{"t":2006.28,"v":1.3},{"t":2006.33,"v":-0.5},{"t":2006.38,"v":1.7},{"t":2006.43,"v":-0.6},{"t":2006.48,"v":1.7},{"t":2006.53,"v":0.0},{"t":2006.58,"v":2.5},{"t":2006.63,"v":-0.9},{"t":2006.68,"v":1.7},{"t":2006.73,"v":-1.0},{"t":2006.78,"v":1.6},{"t":2006.83,"v":-1.8},{"t":2006.88,"v":0.8},{"t":2006.93,"v":-1.5},{"t":2006.98,"v":1.3},
{"t":2007.03,"v":-1.7},{"t":2007.08,"v":0.9},{"t":2007.13,"v":-1.5},{"t":2007.18,"v":0.7},{"t":2007.23,"v":-2.0},{"t":2007.28,"v":0.3},{"t":2007.33,"v":-1.3},{"t":2007.38,"v":1.2},{"t":2007.43,"v":-1.4},{"t":2007.48,"v":1.2},{"t":2007.53,"v":-0.6},{"t":2007.58,"v":2.0},{"t":2007.63,"v":-0.6},{"t":2007.68,"v":2.0},{"t":2007.73,"v":-0.1},{"t":2007.78,"v":2.7},{"t":2007.83,"v":-0.8},{"t":2007.88,"v":1.8},{"t":2007.93,"v":-1.0},{"t":2007.98,"v":1.2},
{"t":2008.03,"v":-1.9},{"t":2008.08,"v":0.4},{"t":2008.13,"v":-1.5},{"t":2008.18,"v":1.0},{"t":2008.23,"v":-2.0},{"t":2008.28,"v":0.6},{"t":2008.33,"v":-1.3},{"t":2008.38,"v":1.3},{"t":2008.43,"v":-1.3},{"t":2008.48,"v":1.3},{"t":2008.53,"v":-0.4},{"t":2008.58,"v":2.4},{"t":2008.63,"v":-0.6},{"t":2008.68,"v":2.0},{"t":2008.73,"v":-0.6},{"t":2008.78,"v":1.6},{"t":2008.83,"v":-1.5},{"t":2008.88,"v":0.8},{"t":2008.93,"v":-1.5},{"t":2008.98,"v":1.0},
{"t":2009.03,"v":-2.2},{"t":2009.08,"v":0.4},{"t":2009.13,"v":-1.8},{"t":2009.18,"v":0.8},{"t":2009.23,"v":-1.8},{"t":2009.28,"v":0.8},{"t":2009.33,"v":-0.9},{"t":2009.38,"v":1.9},{"t":2009.43,"v":-0.8},{"t":2009.48,"v":1.8},{"t":2009.53,"v":-0.4},{"t":2009.58,"v":1.8},{"t":2009.63,"v":-1.0},{"t":2009.68,"v":1.3},{"t":2009.73,"v":-0.9},{"t":2009.78,"v":1.6},{"t":2009.83,"v":-1.8},{"t":2009.88,"v":0.8},{"t":2009.93,"v":-1.8},{"t":2009.98,"v":0.8},
{"t":2010.03,"v":-2.2},{"t":2010.08,"v":0.4},{"t":2010.13,"v":-1.4},{"t":2010.18,"v":1.4},{"t":2010.23,"v":-1.2},{"t":2010.28,"v":1.4},{"t":2010.33,"v":-0.5},{"t":2010.38,"v":1.7},{"t":2010.43,"v":-0.6},{"t":2010.48,"v":1.7},{"t":2010.53,"v":0.0},{"t":2010.58,"v":2.5},{"t":2010.63,"v":-0.9},{"t":2010.68,"v":1.7},{"t":2010.73,"v":-1.1},{"t":2010.78,"v":1.5},{"t":2010.83,"v":-2.0},{"t":2010.88,"v":0.6},{"t":2010.93,"v":-1.7},{"t":2010.98,"v":1.1},
{"t":2011.03,"v":-1.8},{"t":2011.08,"v":0.8},{"t":2011.13,"v":-1.2},{"t":2011.18,"v":1.0},{"t":2011.23,"v":-1.1},{"t":2011.28,"v":1.2},{"t":2011.33,"v":-0.3},{"t":2011.38,"v":2.2},{"t":2011.43,"v":-0.7},{"t":2011.48,"v":1.9},{"t":2011.53,"v":-0.3},{"t":2011.58,"v":2.3},{"t":2011.63,"v":-1.2},{"t":2011.68,"v":1.4},{"t":2011.73,"v":-1.2},{"t":2011.78,"v":1.6},{"t":2011.83,"v":-1.5},{"t":2011.88,"v":1.1},{"t":2011.93,"v":-1.0},{"t":2011.98,"v":1.2},
{"t":2012.03,"v":-1.1},{"t":2012.08,"v":1.2},{"t":2012.13,"v":-0.3},{"t":2012.18,"v":2.2},{"t":2012.23,"v":-0.5},{"t":2012.28,"v":2.1},{"t":2012.33,"v":0.1},{"t":2012.38,"v":2.7},{"t":2012.43,"v":-0.3},{"t":2012.48,"v":2.3},{"t":2012.53,"v":0.1},{"t":2012.58,"v":2.9},{"t":2012.63,"v":-0.4},{"t":2012.68,"v":2.2},{"t":2012.73,"v":-0.6},{"t":2012.78,"v":1.6},{"t":2012.83,"v":-1.4},{"t":2012.88,"v":0.9},{"t":2012.93,"v":-1.0},{"t":2012.98,"v":1.5},
{"t":2013.03,"v":-1.5},{"t":2013.08,"v":1.1},{"t":2013.13,"v":-0.8},{"t":2013.18,"v":1.8},{"t":2013.23,"v":-0.8},{"t":2013.28,"v":1.8},{"t":2013.33,"v":0.1},{"t":2013.38,"v":2.9},{"t":2013.43,"v":0.1},{"t":2013.48,"v":2.7},{"t":2013.53,"v":0.3},{"t":2013.58,"v":2.5},{"t":2013.63,"v":-0.4},{"t":2013.68,"v":1.9},{"t":2013.73,"v":-0.3},{"t":2013.78,"v":2.2},{"t":2013.83,"v":-1.3},{"t":2013.88,"v":1.3},{"t":2013.93,"v":-1.3},{"t":2013.98,"v":1.3},
{"t":2014.03,"v":-1.7},{"t":2014.08,"v":0.9},{"t":2014.13,"v":-0.9},{"t":2014.18,"v":1.9},{"t":2014.23,"v":-0.7},{"t":2014.28,"v":1.9},{"t":2014.33,"v":0.0},{"t":2014.38,"v":2.2},{"t":2014.43,"v":-0.1},{"t":2014.48,"v":2.2},{"t":2014.53,"v":0.5},{"t":2014.58,"v":3.0},{"t":2014.63,"v":-0.2},{"t":2014.68,"v":2.4},{"t":2014.73,"v":-0.3},{"t":2014.78,"v":2.3},{"t":2014.83,"v":-1.3},{"t":2014.88,"v":1.3},{"t":2014.93,"v":-1.2},{"t":2014.98,"v":1.6},
{"t":2015.03,"v":-1.5},{"t":2015.08,"v":1.1},{"t":2015.13,"v":-0.9},{"t":2015.18,"v":1.3},{"t":2015.23,"v":-0.8},{"t":2015.28,"v":1.5},{"t":2015.33,"v":0.1},{"t":2015.38,"v":2.6},{"t":2015.43,"v":-0.2},{"t":2015.48,"v":2.4},{"t":2015.53,"v":0.0},{"t":2015.58,"v":2.6},{"t":2015.63,"v":-0.8},{"t":2015.68,"v":1.8},{"t":2015.73,"v":-0.7},{"t":2015.78,"v":2.1},{"t":2015.83,"v":-1.2},{"t":2015.88,"v":1.4},{"t":2015.93,"v":-1.0},{"t":2015.98,"v":1.2},
{"t":2016.03,"v":-1.3},{"t":2016.08,"v":1.0},{"t":2016.13,"v":-0.5},{"t":2016.18,"v":2.0},{"t":2016.23,"v":-0.7},{"t":2016.28,"v":1.9},{"t":2016.33,"v":0.0},{"t":2016.38,"v":2.6},{"t":2016.43,"v":-0.1},{"t":2016.48,"v":2.5},{"t":2016.53,"v":0.5},{"t":2016.58,"v":3.3},{"t":2016.63,"v":0.1},{"t":2016.68,"v":3.9},{"t":2016.73,"v":-0.1},{"t":2016.78,"v":2.1},{"t":2016.83,"v":-1.0},{"t":2016.88,"v":1.3},{"t":2016.93,"v":-1.0},{"t":2016.98,"v":1.5},
{"t":2017.03,"v":-1.8},{"t":2017.08,"v":0.8},{"t":2017.13,"v":-1.4},{"t":2017.18,"v":1.2},{"t":2017.23,"v":0.9}
]
},
"vconcat":[
{
"width":1317,"height":513,
"title":{"text":"MAW1_66004M001","font":"Liberation Sans","fontSize":33,"fontWeight":"normal","color":"#222222","anchor":"middle","offset":5},
"resolve":{"axis":{"x":"independent","y":"independent"}},
"layer":[
{"data":{"name":"ib"},"mark":{"type":"line","color":"#7c7c7c","strokeWidth":1.4,"clip":true},
 "encoding":{
  "x":{"field":"t","type":"quantitative","scale":{"domain":[2001.51,2017.47],"nice":false,"zero":false},
   "axis":{"orient":"bottom","title":null,"values":[2001.5,2002,2002.5,2003,2003.5,2004,2004.5,2005,2005.5,2006,2006.5,2007,2007.5,2008,2008.5,2009,2009.5,2010,2010.5,2011,2011.5,2012,2012.5,2013,2013.5,2014,2014.5,2015,2015.5,2016,2016.5,2017],"format":"d","labelExpr":"datum.value % 2 === 0 ? datum.label : ''","tickSize":{"condition":{"test":"datum.value % 2 === 0","value":11},"value":6},"labelPadding":8}},
  "y":{"field":"v","type":"quantitative","scale":{"domain":[-17.5,17.5],"nice":false,"zero":false},
   "axis":{"orient":"left","title":"mm","values":[-15,-10,-5,0,5,10,15],"tickSize":11,"labelPadding":16,"titlePadding":22}}}},
{"data":{"name":"merra"},"mark":{"type":"line","color":"#33ee33","strokeWidth":5,"clip":true,"interpolate":"monotone"},
 "encoding":{"x":{"field":"t","type":"quantitative","scale":{"domain":[2001.51,2017.47],"nice":false,"zero":false},"axis":null},
  "y":{"field":"v","type":"quantitative","scale":{"domain":[-17.5,17.5],"nice":false,"zero":false},
   "axis":{"orient":"left","title":null,"labels":false,"domain":false,"values":[-17.5,-12.5,-7.5,-2.5,2.5,7.5,12.5,17.5],"tickSize":6}}}},
{"data":{"name":"gldas"},"mark":{"type":"line","color":"#189818","strokeWidth":1.6,"clip":true,"interpolate":"monotone"},
 "encoding":{"x":{"field":"t","type":"quantitative","scale":{"domain":[2001.51,2017.47],"nice":false,"zero":false},"axis":null},
  "y":{"field":"v","type":"quantitative","scale":{"domain":[-17.5,17.5],"nice":false,"zero":false},"axis":null}}},
{"data":{"name":"grace"},"mark":{"type":"line","color":"#b01c24","strokeWidth":2.5,"clip":true},
 "encoding":{"x":{"field":"t","type":"quantitative","scale":{"domain":[2001.51,2017.47],"nice":false,"zero":false},
   "axis":{"orient":"top","title":null,"labels":false,"values":[2001.5,2002,2002.5,2003,2003.5,2004,2004.5,2005,2005.5,2006,2006.5,2007,2007.5,2008,2008.5,2009,2009.5,2010,2010.5,2011,2011.5,2012,2012.5,2013,2013.5,2014,2014.5,2015,2015.5,2016,2016.5,2017],"tickSize":{"condition":{"test":"datum.value % 2 === 0","value":11},"value":6}}},
  "y":{"field":"v","type":"quantitative","scale":{"domain":[-17.5,17.5],"nice":false,"zero":false},"axis":null}}},
{"data":{"name":"labels"},"transform":[{"filter":"datum.label === 'ECMWF/IB'"}],"mark":{"type":"text","align":"left","baseline":"alphabetic","font":"Lato","fontSize":37,"color":"#000000"},
 "encoding":{"x":{"datum":2001.75,"type":"quantitative","scale":{"domain":[2001.51,2017.47],"nice":false,"zero":false},"axis":null},"y":{"datum":14.07,"type":"quantitative","scale":{"domain":[-17.5,17.5],"nice":false,"zero":false},"axis":null},"text":{"field":"label"}}},
{"data":{"name":"labels"},"transform":[{"filter":"datum.label === 'GLDAS/Noah'"}],"mark":{"type":"text","align":"left","baseline":"alphabetic","font":"Lato","fontSize":37,"color":"#008a00"},
 "encoding":{"x":{"datum":2001.75,"type":"quantitative","scale":{"domain":[2001.51,2017.47],"nice":false,"zero":false},"axis":null},"y":{"datum":10.66,"type":"quantitative","scale":{"domain":[-17.5,17.5],"nice":false,"zero":false},"axis":null},"text":{"field":"label"}}},
{"data":{"name":"labels"},"transform":[{"filter":"datum.label === 'MERRA'"}],"mark":{"type":"text","align":"left","baseline":"alphabetic","font":"Lato","fontSize":37,"color":"#1ef01e"},
 "encoding":{"x":{"datum":2006.41,"type":"quantitative","scale":{"domain":[2001.51,2017.47],"nice":false,"zero":false},"axis":null},"y":{"datum":14.07,"type":"quantitative","scale":{"domain":[-17.5,17.5],"nice":false,"zero":false},"axis":null},"text":{"field":"label"}}},
{"data":{"name":"labels"},"transform":[{"filter":"datum.label === 'GRACE mascons'"}],"mark":{"type":"text","align":"left","baseline":"alphabetic","font":"Lato","fontSize":37.5,"color":"#f01010"},
 "encoding":{"x":{"datum":2006.41,"type":"quantitative","scale":{"domain":[2001.51,2017.47],"nice":false,"zero":false},"axis":null},"y":{"datum":10.66,"type":"quantitative","scale":{"domain":[-17.5,17.5],"nice":false,"zero":false},"axis":null},"text":{"field":"label"}}}
]
},
{
"width":1317,"height":513,
"resolve":{"axis":{"x":"independent","y":"independent"}},
"layer":[
{"data":{"name":"tugo"},"mark":{"type":"line","color":"#8a8a8a","strokeWidth":1.2,"clip":true},
 "encoding":{
  "x":{"field":"t","type":"quantitative","scale":{"domain":[2001.51,2017.47],"nice":false,"zero":false},
   "axis":{"orient":"bottom","title":"year","titleFontSize":24,"titlePadding":26,"values":[2001.5,2002,2002.5,2003,2003.5,2004,2004.5,2005,2005.5,2006,2006.5,2007,2007.5,2008,2008.5,2009,2009.5,2010,2010.5,2011,2011.5,2012,2012.5,2013,2013.5,2014,2014.5,2015,2015.5,2016,2016.5,2017],"format":"d","labelExpr":"datum.value % 2 === 0 ? datum.label : ''","tickSize":{"condition":{"test":"datum.value % 2 === 0","value":11},"value":6},"labelPadding":8}},
  "y":{"field":"v","type":"quantitative","scale":{"domain":[-7,7],"nice":false,"zero":false},
   "axis":{"orient":"left","title":"mm","values":[-6,-4,-2,0,2,4,6],"tickSize":11,"labelPadding":16,"titlePadding":22}}}},
{"data":{"name":"ecco"},"mark":{"type":"line","color":"#1010d0","strokeWidth":1.7,"clip":true},
 "encoding":{"x":{"field":"t","type":"quantitative","scale":{"domain":[2001.51,2017.47],"nice":false,"zero":false},
   "axis":{"orient":"top","title":null,"labels":false,"values":[2001.5,2002,2002.5,2003,2003.5,2004,2004.5,2005,2005.5,2006,2006.5,2007,2007.5,2008,2008.5,2009,2009.5,2010,2010.5,2011,2011.5,2012,2012.5,2013,2013.5,2014,2014.5,2015,2015.5,2016,2016.5,2017],"tickSize":{"condition":{"test":"datum.value % 2 === 0","value":11},"value":6}}},
  "y":{"field":"v","type":"quantitative","scale":{"domain":[-7,7],"nice":false,"zero":false},
   "axis":{"orient":"left","title":null,"labels":false,"domain":false,"values":[-7,-5,-3,-1,1,3,5,7],"tickSize":6}}}},
{"data":{"name":"ecco2"},"mark":{"type":"line","color":"#22e8e8","strokeWidth":1.7,"clip":true},
 "encoding":{"x":{"field":"t","type":"quantitative","scale":{"domain":[2001.51,2017.47],"nice":false,"zero":false},"axis":null},
  "y":{"field":"v","type":"quantitative","scale":{"domain":[-7,7],"nice":false,"zero":false},"axis":null}}},
{"data":{"name":"labels"},"transform":[{"filter":"datum.label === 'Ecart au Baromètre Inversé (TUGO-m)'"}],"mark":{"type":"text","align":"left","baseline":"alphabetic","font":"Lato","fontSize":39,"color":"#000000"},
 "encoding":{"x":{"datum":2001.755,"type":"quantitative","scale":{"domain":[2001.51,2017.47],"nice":false,"zero":false},"axis":null},"y":{"datum":5.64,"type":"quantitative","scale":{"domain":[-7,7],"nice":false,"zero":false},"axis":null},"text":{"field":"label"}}},
{"data":{"name":"labels"},"transform":[{"filter":"datum.label === 'ECCO2'"}],"mark":{"type":"text","align":"left","baseline":"alphabetic","font":"Lato","fontSize":37,"color":"#10ecec"},
 "encoding":{"x":{"datum":2001.755,"type":"quantitative","scale":{"domain":[2001.51,2017.47],"nice":false,"zero":false},"axis":null},"y":{"datum":4.22,"type":"quantitative","scale":{"domain":[-7,7],"nice":false,"zero":false},"axis":null},"text":{"field":"label"}}},
{"data":{"name":"labels"},"transform":[{"filter":"datum.label === 'ECCO (kf080h)'"}],"mark":{"type":"text","align":"left","baseline":"alphabetic","font":"Lato","fontSize":37,"color":"#0a0ae6"},
 "encoding":{"x":{"datum":2006.425,"type":"quantitative","scale":{"domain":[2001.51,2017.47],"nice":false,"zero":false},"axis":null},"y":{"datum":4.22,"type":"quantitative","scale":{"domain":[-7,7],"nice":false,"zero":false},"axis":null},"text":{"field":"label"}}}
]
}
]
}
